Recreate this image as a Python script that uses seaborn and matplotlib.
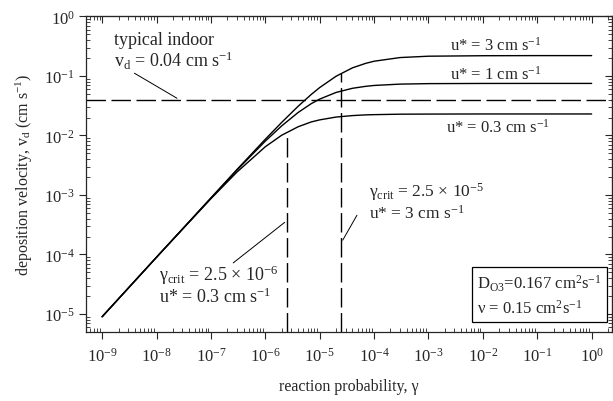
import numpy as np
import pandas as pd
import matplotlib
matplotlib.use("Agg")
import matplotlib.pyplot as plt
import seaborn as sns

# ---------------- DATA ----------------
gamma = [1e-9, 1e-8, 1e-7, 3e-7, 1e-6, 2e-6, 4e-6, 7e-6, 1e-5, 2e-5,
         4e-5, 7e-5, 1e-4, 3e-4, 1e-3, 1e-2, 1e-1, 1e0]
vd_u3 = [9.0e-6, 9.0e-5, 8.9e-4, 2.67e-3, 8.65e-3, 0.0166, 0.0309, 0.049,
         0.0639, 0.099, 0.137, 0.163, 0.177, 0.204, 0.215, 0.219, 0.22, 0.22]
vd_u1 = [9.0e-6, 9.0e-5, 8.9e-4, 2.61e-3, 8.04e-3, 0.0145, 0.0243, 0.0343,
         0.0409, 0.0529, 0.0621, 0.067, 0.0693, 0.073, 0.0744, 0.0749, 0.075, 0.075]
vd_u03 = [9.0e-6, 9.0e-5, 8.66e-4, 2.42e-3, 6.47e-3, 0.0101, 0.014, 0.0169,
          0.0183, 0.0204, 0.0216, 0.0222, 0.0224, 0.0228, 0.0229, 0.023, 0.023, 0.023]
series_labels = ["u* = 3", "u* = 1", "u* = 0.3"]

x_ticks = [1e-9, 1e-8, 1e-7, 1e-6, 1e-5, 1e-4, 1e-3, 1e-2, 1e-1, 1e0]
y_ticks = [1e-5, 1e-4, 1e-3, 1e-2, 1e-1, 1e0]

vd_indoor = 0.04
gamma_crit = [2.5e-6, 2.5e-5]
vd_at_crit = [0.0114, 0.111]

df = pd.DataFrame({
    "gamma": gamma * 3,
    "vd": vd_u3 + vd_u1 + vd_u03,
    "series": [s for s in series_labels for _ in gamma],
})

# ---------------- STYLE ----------------
sns.set_style("ticks")
plt.rcParams["font.family"] = ["Liberation Serif", "DejaVu Serif"]
plt.rcParams["mathtext.default"] = "regular"
plt.rcParams["mathtext.fontset"] = "stix"

fig = plt.figure(figsize=(6.13, 4.02), dpi=100)
ax = fig.add_axes([0.140, 0.172, 0.858, 0.786])

sns.lineplot(data=df, x="gamma", y="vd", hue="series", units="series",
             estimator=None, palette=["black"] * 3, linewidth=1.0,
             legend=False, ax=ax, sort=False)

ax.set_xscale("log")
ax.set_yscale("log")
ax.set_xlim(10 ** -9.30, 10 ** 0.37)
ax.set_ylim(10 ** -5.30, 10 ** 0.01)

dash = (0, (14, 4))
ax.axhline(vd_indoor, color="black", linewidth=1.0, linestyle=dash)
for g, v in zip(gamma_crit, vd_at_crit):
    ax.plot([g, g], [ax.get_ylim()[0], v], color="black", linewidth=1.0,
            linestyle=dash)

# ticks
minor_loc = lambda: matplotlib.ticker.LogLocator(base=10, subs=np.arange(2, 10), numticks=12)
fmt = matplotlib.ticker.LogFormatterSciNotation()

ax.set_xticks(x_ticks)
ax.set_yticks(y_ticks)
ax.xaxis.set_major_formatter(fmt)
ax.yaxis.set_major_formatter(matplotlib.ticker.LogFormatterSciNotation())
ax.xaxis.set_minor_locator(minor_loc())
ax.yaxis.set_minor_locator(minor_loc())
ax.xaxis.set_minor_formatter(matplotlib.ticker.NullFormatter())
ax.yaxis.set_minor_formatter(matplotlib.ticker.NullFormatter())
ax.tick_params(which="major", direction="out", length=5, width=0.8, labelsize=12)
ax.tick_params(axis="x", which="major", pad=6)
ax.tick_params(axis="y", which="major", pad=3)
ax.tick_params(which="minor", direction="in", length=3, width=0.6)

top = ax.secondary_xaxis("top")
top.set_xticks(x_ticks)
top.xaxis.set_minor_locator(minor_loc())
top.tick_params(which="major", direction="in", length=5, width=0.8, labeltop=False)
top.tick_params(which="minor", direction="in", length=3, width=0.6, labeltop=False)
right = ax.secondary_yaxis("right")
right.set_yticks(y_ticks)
right.yaxis.set_minor_locator(minor_loc())
right.tick_params(which="major", direction="in", length=5, width=0.8, labelright=False)
right.tick_params(which="minor", direction="in", length=3, width=0.6, labelright=False)
for s in ax.spines.values():
    s.set_linewidth(0.9)

ax.set_xlabel("reaction probability, γ", fontsize=11.5, labelpad=9)
ax.set_ylabel("deposition velocity, v$_d$ (cm s$^{-1}$)", fontsize=11.5, labelpad=6)

fs = 13
ax.text(10 ** -8.78, 10 ** -0.39, "typical indoor", fontsize=fs, va="center")
ax.text(10 ** -8.78, 10 ** -0.73, "v$_d$ = 0.04 cm s$^{-1}$", fontsize=fs, va="center")
ax.annotate("", xy=(10 ** -7.58, vd_indoor), xytext=(10 ** -8.45, 10 ** -0.93),
            arrowprops=dict(arrowstyle="-", color="black", lw=0.7))

ax.text(10 ** -1.76, 10 ** -0.47, "u* = 3 cm s$^{-1}$", fontsize=12, ha="center", va="center")
ax.text(10 ** -1.76, 10 ** -0.96, "u* = 1 cm s$^{-1}$", fontsize=12, ha="center", va="center")
ax.text(10 ** -1.73, 10 ** -1.85, "u* = 0.3 cm s$^{-1}$", fontsize=12, ha="center", va="center")

ax.text(10 ** -4.10, 10 ** -2.94, "γ$_{crit}$ = 2.5 × 10$^{-5}$", fontsize=12.5, va="center")
ax.text(10 ** -4.10, 10 ** -3.29, "u* = 3 cm s$^{-1}$", fontsize=12.5, va="center")
ax.annotate("", xy=(gamma_crit[1], 10 ** -3.80), xytext=(10 ** -4.29, 10 ** -3.30),
            arrowprops=dict(arrowstyle="-", color="black", lw=0.7))

ax.text(10 ** -7.95, 10 ** -4.33, "γ$_{crit}$ = 2.5 × 10$^{-6}$", fontsize=fs, va="center")
ax.text(10 ** -7.95, 10 ** -4.71, "u* = 0.3 cm s$^{-1}$", fontsize=fs, va="center")
ax.annotate("", xy=(gamma_crit[0], 10 ** -3.43), xytext=(10 ** -6.63, 10 ** -4.17),
            arrowprops=dict(arrowstyle="-", color="black", lw=0.7))

ax.text(10 ** -2.10, 10 ** -4.68,
        "D$_{O3}$=0.167 cm$^2$s$^{-1}$\nν = 0.15 cm$^2$s$^{-1}$",
        fontsize=12, va="center", linespacing=1.45,
        bbox=dict(boxstyle="square,pad=0.3", fc="white", ec="black", lw=0.9))

fig.savefig("out.png", dpi=100)
